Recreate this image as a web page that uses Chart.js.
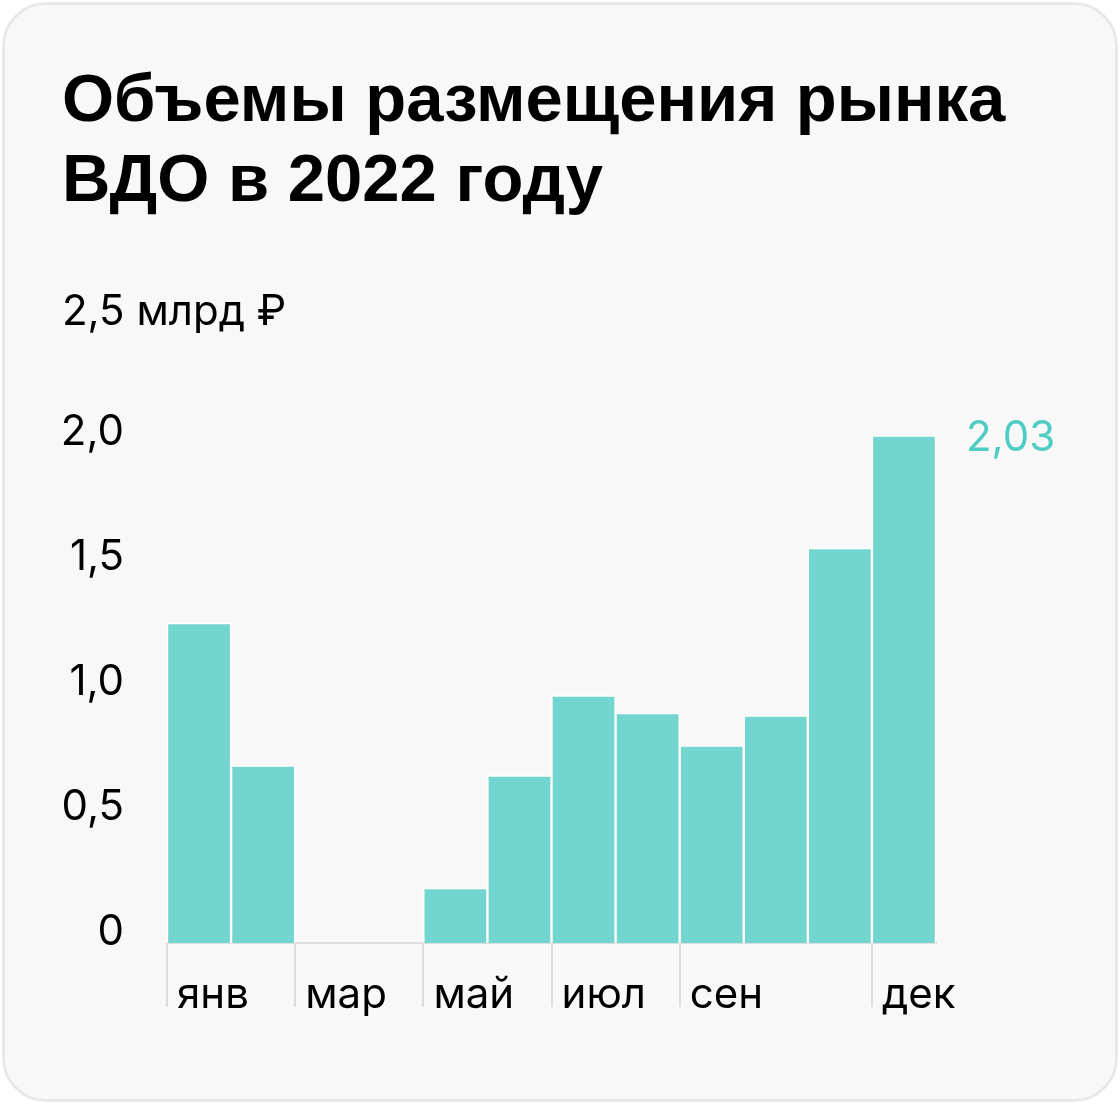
<!DOCTYPE html>
<html lang="ru">
<head>
<meta charset="utf-8">
<title>Объемы размещения рынка ВДО в 2022 году</title>
<script src="https://cdn.jsdelivr.net/npm/chart.js@4.4.1/dist/chart.umd.min.js"></script>
<style>
  html, body { margin: 0; padding: 0; background: #ffffff; }
  body { width: 1120px; height: 1104px; position: relative; overflow: hidden; }
  .card {
    position: absolute; left: 2px; top: 2px; width: 1116px; height: 1100px;
    box-sizing: border-box; border: 3px solid #e9e9e9; border-radius: 44px;
    background: #f8f8f8;
  }
  h1 {
    position: absolute; left: 62px; top: 58px; margin: 0;
    font: bold 67px/80px "Liberation Sans", Arial, sans-serif;
    color: #000; letter-spacing: 0;
  }
  .chart-wrap { position: absolute; left: 40px; top: 250px; width: 1060px; height: 803px; }
</style>
</head>
<body>
<div class="card"></div>
<h1>Объемы размещения рынка<br>ВДО в 2022 году</h1>
<div class="chart-wrap"><canvas id="chart"></canvas></div>

<script>
const months = ['янв', 'фев', 'мар', 'апр', 'май', 'июн', 'июл', 'авг', 'сен', 'окт', 'ноя', 'дек'];
const tickLabels = ['янв', '', 'мар', '', 'май', '', 'июл', '', 'сен', '', '', 'дек'];
const volumes = [1.28, 0.71, 0, 0, 0.22, 0.67, 0.99, 0.92, 0.79, 0.91, 1.58, 2.03];
const yTicks = [0, 0.5, 1.0, 1.5, 2.0, 2.5];
const unitLabel = 'млрд ₽';
const lastValueLabel = '2,03';

const FONT = 'Inter, "Noto Sans", sans-serif';
const BAR_COLOR = '#73d5cf';
const VALUE_COLOR = '#4fcdc4';

function fmt(v) {
  return v === 0 ? '0' : v.toFixed(1).replace('.', ',');
}

// Unit label at the top tick and the value of the last bar
const extraLabels = {
  id: 'extraLabels',
  afterDraw(chart) {
    const ctx = chart.ctx;
    const y = chart.scales.y;
    ctx.save();
    ctx.font = '42px ' + FONT;
    ctx.fillStyle = '#000';
    ctx.textAlign = 'left';
    ctx.textBaseline = 'alphabetic';
    const top = yTicks[yTicks.length - 1];
    ctx.fillText(fmt(top) + ' ' + unitLabel, 22, y.getPixelForValue(top) + 7);

    const bar = chart.getDatasetMeta(0).data[volumes.length - 1];
    ctx.fillStyle = VALUE_COLOR;
    ctx.fillText(lastValueLabel, bar.x + bar.width / 2 + 30, bar.y + 15);
    ctx.restore();
  }
};

new Chart(document.getElementById('chart'), {
  type: 'bar',
  data: {
    labels: months,
    datasets: [{
      data: volumes,
      backgroundColor: BAR_COLOR,
      borderColor: '#ffffff',
      borderWidth: 1.5,
      barPercentage: 1,
      categoryPercentage: 1
    }]
  },
  options: {
    responsive: true,
    maintainAspectRatio: false,
    animation: false,
    layout: { padding: { top: 60, right: 164, left: 0, bottom: 0 } },
    plugins: {
      legend: { display: false },
      tooltip: { enabled: false }
    },
    scales: {
      x: {
        grid: {
          offset: true,
          drawOnChartArea: false,
          drawTicks: true,
          tickLength: 64,
          lineWidth: 2,
          color: c => tickLabels[c.index] ? '#dedede' : 'rgba(0,0,0,0)'
        },
        border: { display: true, color: '#dedede', width: 2 },
        ticks: {
          autoSkip: false,
          maxRotation: 0,
          align: 'start',
          labelOffset: -22,
          padding: -37,
          color: '#000',
          font: { family: FONT, size: 42 },
          callback: (v, i) => tickLabels[i]
        },
        afterFit: s => { s.height = 110; }
      },
      y: {
        min: 0,
        max: 2.5,
        grid: { display: false, drawTicks: false },
        border: { display: false },
        afterBuildTicks: s => { s.ticks = yTicks.map(v => ({ value: v })); },
        ticks: {
          padding: 43,
          labelOffset: -11,
          color: '#000',
          font: { family: FONT, size: 42 },
          callback: v => (v === yTicks[yTicks.length - 1] ? '' : fmt(v))
        },
        afterFit: s => { s.width = 127; }
      }
    }
  },
  plugins: [extraLabels]
});
</script>
</body>
</html>
